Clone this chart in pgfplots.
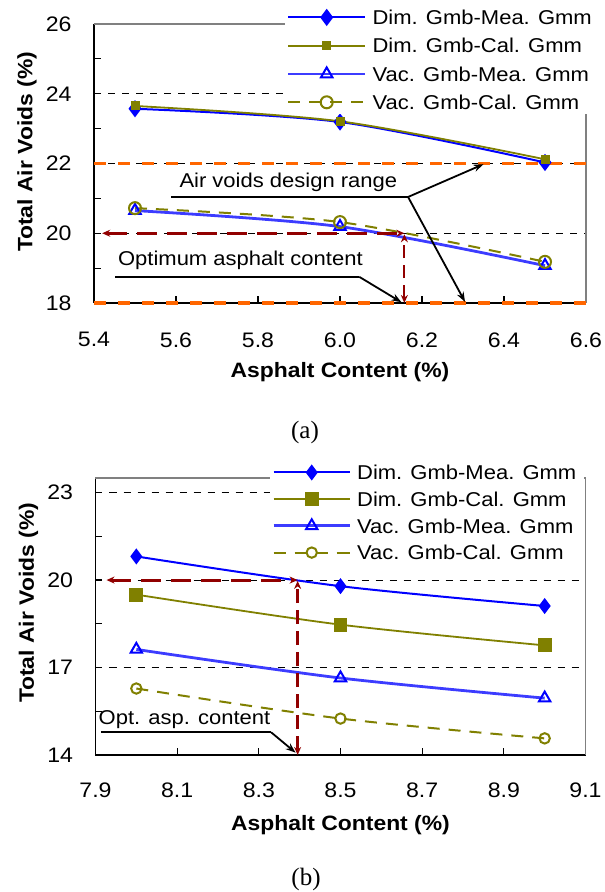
\documentclass[border=0pt]{standalone}
\usepackage{fontspec}
\setmainfont{Liberation Sans}[FakeStretch=1.1, BoldFont=Liberation Sans Bold]
\newfontfamily\capfont{Liberation Serif}
\usepackage{pgfplots}
\pgfplotsset{compat=1.18}
\usetikzlibrary{arrows.meta}

\definecolor{mblue}{RGB}{0,0,255}
\definecolor{lblue}{RGB}{60,60,255}
\definecolor{olivegreen}{RGB}{128,128,0}
\definecolor{designorange}{RGB}{255,102,0}
\definecolor{optred}{RGB}{145,0,0}
\definecolor{framegray}{RGB}{128,128,128}

\newcommand{\labelfont}{\fontsize{10.4}{12}\bfseries\selectfont}

\tikzset{
  annot/.style={black, line width=0.9pt},
  annotarrow/.style={black, line width=0.9pt, -{Stealth[length=5pt,width=3.6pt]}},
}

\pgfplotsset{
  voidaxis/.style={
    scale only axis, clip=false, enlargelimits=false,
    axis lines=left, axis line style={-, black, line width=0.7pt},
    tick style={black, line width=0.6pt},
    major tick length=3.5pt, minor tick length=3.5pt, tick align=inside,
    ymajorgrids,
    major grid style={black, line width=0.4pt, dash pattern=on 3.5pt off 3.5pt},
    extra tick style={grid=none},
    ticklabel style={font=\fontsize{10.5}{12}\selectfont},
    yticklabel style={anchor=east, inner sep=0pt, xshift=-11pt},
    xlabel={Asphalt Content (\%)},
    ylabel={Total Air Voids (\%)},
    legend cell align=left,
    legend style={draw=none, fill=white, inner xsep=1pt, inner ysep=2pt,
      font=\fontsize{10}{12}\selectfont,
      nodes={inner xsep=3pt, inner ysep=0pt, text height=7.5pt, text depth=0.3pt},
      column sep=0pt},
  },
  dimmea/.style={mblue, line width=1pt, smooth, mark=diamond*, mark size=3.5pt, mark options={solid, fill=mblue}},
  vacmea/.style={lblue, line width=1.4pt, smooth, mark=triangle, mark size=3.3pt, mark options={solid, mblue, line width=1pt}},
  dimcal/.style={olivegreen, line width=0.9pt, smooth, mark=square*, mark options={solid, fill=olivegreen}},
  vaccal/.style={olivegreen, line width=1pt, smooth, dash pattern=on 6pt off 4.5pt, mark=o, mark options={solid, line width=1pt}},
}

\begin{document}
\begin{tikzpicture}

% ---------------- (a) ----------------
\begin{axis}[voidaxis,
  at={(47pt,294.5pt)}, anchor=south west,
  width=246pt, height=139.5pt,
  xmin=5.4, xmax=6.6, ymin=18, ymax=26,
  xtick={5.4,5.6,5.8,6.0,6.2,6.4,6.6},
  xticklabels={5.4,5.6,5.8,6.0,6.2,6.4,6.6},
  xticklabel style={anchor=north, inner sep=0pt, yshift=-14.5pt},
  ytick={20,22,24}, yticklabels={20,22,24},
  extra y ticks={18,26}, extra y tick labels={18,26},
  minor ytick={19,21,23,25},
  every axis y label/.style={at={([xshift=-33.5pt,yshift=5.75pt]axis description cs:0,0.5)}, rotate=90, anchor=center, font=\labelfont},
  every axis x label/.style={at={([yshift=-34.5pt]axis description cs:0.5,0)}, anchor=center, font=\labelfont},
  legend style={at={(rel axis cs:0.387,1.0674)}, anchor=north west, row sep=6.35pt},
  legend image code/.code={\draw[mark repeat=2, mark phase=2, #1] plot coordinates {(0pt,0pt) (19.25pt,0pt) (38.5pt,0pt)};},
]
% frame on the open sides
\draw[framegray, line width=0.7pt] (rel axis cs:0,1) -- (rel axis cs:1,1) -- (rel axis cs:1,0);

% design range limits
\addplot[designorange, line width=1.7pt, dash pattern=on 6pt off 6pt, forget plot] coordinates {(5.4,22) (6.6,22)};
\addplot[designorange, line width=1.7pt, dash pattern=on 6pt off 6pt, forget plot] coordinates {(5.4,18) (6.6,18)};

\addplot[dimmea] coordinates {(5.5,23.57) (6.0,23.19) (6.5,22.03)};
\addlegendentry{Dim. Gmb-Mea. Gmm}
\addplot[dimcal, mark size=1.8pt] coordinates {(5.5,23.65) (6.0,23.21) (6.5,22.12)};
\addlegendentry{Dim. Gmb-Cal. Gmm}
\addplot[vacmea] coordinates {(5.5,20.65) (6.0,20.19) (6.5,19.07)};
\addlegendentry{Vac. Gmb-Mea. Gmm}
\addplot[vaccal, mark size=3pt] coordinates {(5.5,20.72) (6.0,20.32) (6.5,19.18)};
\addlegendentry{Vac. Gmb-Cal. Gmm}

% optimum asphalt content read at 20 % air voids
\addplot[optred, line width=1.5pt, dash pattern=on 10pt off 5pt,
  {Stealth[length=4pt,width=3.5pt]}-{Stealth[length=4pt,width=3.5pt]}, forget plot]
  coordinates {(5.42,20) (6.157,20)};
\addplot[optred, line width=1.1pt, dash pattern=on 6.5pt off 3.5pt,
  {Stealth[length=4pt,width=3.5pt]}-{Stealth[length=4pt,width=3.5pt]}, forget plot]
  coordinates {(6.157,18) (6.157,19.97)};

\node[font=\fontsize{10}{12}\selectfont, inner sep=0pt] at (axis cs:5.874,21.47) {Air voids design range};
\draw[annot] (axis cs:5.589,21.04) -- (axis cs:6.166,21.04);
\draw[annotarrow] (axis cs:6.166,21.04) -- (axis cs:6.35,21.98);
\draw[annotarrow] (axis cs:6.166,21.04) -- (axis cs:6.305,18.03);

\node[font=\fontsize{10}{12}\selectfont, inner sep=0pt] at (axis cs:5.757,19.23) {Optimum asphalt content};
\draw[annot] (axis cs:5.452,18.75) -- (axis cs:6.047,18.75);
\draw[annotarrow] (axis cs:6.047,18.75) -- (axis cs:6.15,18.02);
\end{axis}

% ---------------- (b) ----------------
\begin{axis}[voidaxis,
  at={(47.75pt,68.5pt)}, anchor=south west,
  width=245pt, height=138.5pt,
  xmin=7.9, xmax=9.1, ymin=14, ymax=23.5,
  xtick={7.9,8.1,8.3,8.5,8.7,8.9,9.1},
  xticklabels={7.9,8.1,8.3,8.5,8.7,8.9,9.1},
  xticklabel style={anchor=north, inner sep=0pt, yshift=-13.75pt},
  ytick={17,20,23}, yticklabels={17,20,23},
  extra y ticks={14}, extra y tick labels={14},
  minor ytick={15.5,18.5,21.5},
  every axis y label/.style={at={([xshift=-33.5pt,yshift=6.75pt]axis description cs:0,0.5)}, rotate=90, anchor=center, font=\labelfont},
  every axis x label/.style={at={([yshift=-35pt]axis description cs:0.5,0)}, anchor=center, font=\labelfont},
  legend style={at={(rel axis cs:0.356,1.064)}, anchor=north west, row sep=5.55pt},
  legend image code/.code={\draw[mark repeat=2, mark phase=2, #1] plot coordinates {(0pt,0pt) (19pt,0pt) (38pt,0pt)};},
]
\draw[framegray, line width=0.7pt] (rel axis cs:0,1) -- (rel axis cs:1,1) -- (rel axis cs:1,0);

\addplot[dimmea, mark size=3.2pt] coordinates {(8.0,20.81) (8.5,19.79) (9.0,19.11)};
\addlegendentry{Dim. Gmb-Mea. Gmm}
\addplot[dimcal, mark size=3pt] coordinates {(8.0,19.50) (8.5,18.47) (9.0,17.76)};
\addlegendentry{Dim. Gmb-Cal. Gmm}
\addplot[vacmea] coordinates {(8.0,17.62) (8.5,16.64) (9.0,15.95)};
\addlegendentry{Vac. Gmb-Mea. Gmm}
\addplot[vaccal, mark size=2.6pt] coordinates {(8.0,16.28) (8.5,15.25) (9.0,14.57)};
\addlegendentry{Vac. Gmb-Cal. Gmm}

\addplot[optred, line width=1.5pt, dash pattern=on 10pt off 5pt,
  {Stealth[length=4pt,width=3.5pt]}-{Stealth[length=4pt,width=3.5pt]}, forget plot]
  coordinates {(7.927,20) (8.395,20)};
\addplot[optred, line width=1.3pt, dash pattern=on 7pt off 3.5pt,
  {Stealth[length=4pt,width=3.5pt]}-{Stealth[length=4pt,width=3.5pt]}, forget plot]
  coordinates {(8.395,14) (8.395,19.97)};

\node[font=\fontsize{10}{12}\selectfont, inner sep=0pt] at (axis cs:8.118,15.2) {Opt. asp. content};
\draw[annot] (axis cs:7.913,14.78) -- (axis cs:8.33,14.78);
\draw[annotarrow] (axis cs:8.33,14.78) -- (axis cs:8.39,14.08);
\end{axis}

\node[font=\capfont\fontsize{12.5}{14}\selectfont] at (152.5pt,230pt) {(a)};
\node[font=\capfont\fontsize{12.5}{14}\selectfont] at (153pt,6.5pt) {(b)};

\pgfresetboundingbox
\path[use as bounding box] (0,0) rectangle (302pt,446pt);
\end{tikzpicture}
\end{document}
